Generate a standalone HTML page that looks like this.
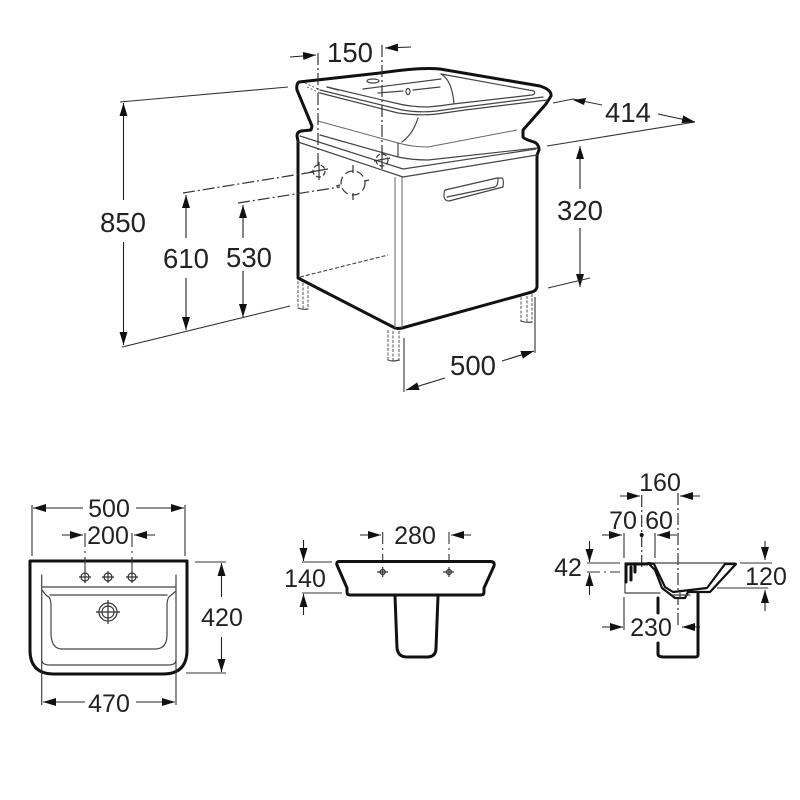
<!DOCTYPE html>
<html><head><meta charset="utf-8"><style>
html,body{margin:0;padding:0;background:#fff}
svg{display:block}
text{font-family:"Liberation Sans",sans-serif;font-size:25px;fill:#222;text-anchor:middle}
text.b{font-size:27.5px}
.k{fill:none;stroke:#111;stroke-width:3;stroke-linejoin:round;stroke-linecap:round}
.t{fill:none;stroke:#444;stroke-width:1.2;stroke-linejoin:round;stroke-linecap:round}
.g{fill:none;stroke:#666;stroke-width:1}
.d{fill:none;stroke:#333;stroke-width:1.1}
.a{stroke:#222;stroke-width:1.1;marker-end:url(#ah);fill:none}
.c{fill:none;stroke:#333;stroke-width:1.2;stroke-dasharray:12 3 2 3}
</style></head><body>
<svg width="800" height="800" viewBox="0 0 800 800" xmlns="http://www.w3.org/2000/svg">
<defs><marker id="ah" markerUnits="userSpaceOnUse" markerWidth="14" markerHeight="10" refX="13" refY="4" orient="auto"><path d="M0,0L13,4L0,8Z" fill="#111"/></marker></defs>

<!-- main unit outline -->
<path class="k" d="M299,82 L380,73 Q420,67 440,69 L540,86 Q552,90 551,96 L546,104 L523,130 L523,137 Q524,139 534,142 Q539,144 539,150 L537,155 L537,287 Q536,291 532,292 L402,328 Q398,329 395,328 L298,278 L298,141 L297,136 Q297,132 301,131 L311,130 L312,126 L297,90 Q296,84 299,82Z"/>
<!-- basin rim -->
<path class="t" d="M327,87 L338,90" stroke-width="2"/>
<path class="t" d="M441,74 L534,91 Q536,94 532,95 L453,104 Q440,106 428,107 Q410,107 395,103 L327,87"/>
<path class="t" d="M543,97 L465,107 L437,111 Q420,113 402,110 L320,90"/>
<path class="t" d="M547,100 L465,110 L437,114 Q420,116 398,113 L320,93"/>
<path class="g" d="M305,83 L320,90 M307,87 L320,93" stroke-dasharray="2 2"/>
<path class="t" d="M441,74 Q452,80 454,104"/>
<ellipse class="t" cx="373" cy="81" rx="6" ry="2"/>
<path class="t" d="M363,89 L441,79"/>
<path class="t" d="M378,93 L403,91 M413,90 L440,87"/>
<ellipse class="t" cx="408" cy="91.500" rx="2" ry="3"/>
<path class="t" d="M418,118 Q413,134 402,142"/>
<path class="g" d="M318,121 L398,143 Q412,147 428,147 L517,130"/>
<path class="t" d="M398,143 V157 M320,135 L398,157 Q412,160 428,160 L537,148"/>
<path class="t" d="M300,136 L403,169 L536,149"/>
<path class="t" d="M298,142 L403,177 L537,155"/>
<path class="g" d="M395,177V328 M402,177V328" stroke-width="1.2"/>
<path class="t" d="M445,190 L497,178 L502,178 Q504,179 503,187 L449,201 Q445,201 444,197 Q444,191 445,190Z"/>
<path class="t" d="M447,197 L495,187 Q498,186 498,178"/>
<path d="M300,277 L388,255" fill="none" stroke="#444" stroke-width="1.1" stroke-dasharray="4 2"/>

<!-- legs -->
<path d="M298,281V308 M303,283V309 M308,286V309 M388,330V360 M393,331V361 M399,331V361 M521,297V322 M527,296V322 M532,294V322" fill="none" stroke="#555" stroke-width="1" stroke-dasharray="3 1.500"/>
<path class="t" d="M298,308 Q303,310 308,309 M388,360 Q393,362 399,360 M521,321 Q526,323 532,322"/>

<!-- crosshair holes -->
<g fill="none" stroke="#333" stroke-width="1.2">
<circle cx="319" cy="171" r="6" stroke-dasharray="5 2.500"/><path d="M319,162v18M310,172l18,-3"/>
<circle cx="353" cy="183" r="12" stroke-dasharray="8 4"/><path d="M353,165v8M353,193v7M340,185l-4,1M365,181l4,-1"/>
<circle cx="382" cy="160" r="6" stroke-dasharray="5 2"/><path d="M382,152v17M374,161l16,-3"/>
</g>

<!-- top dimension 850 -->
<path class="d" d="M120,102 L288,87 M122,347 L290,306"/>
<path class="a" d="M123.500,200V103"/><path class="a" d="M123.500,242V345"/>
<text class="b" x="123" y="232">850</text>
<!-- 610 -->
<path class="c" d="M183,193 L313,172"/>
<path class="a" d="M186,238V195"/><path class="a" d="M186,278V330"/>
<text class="b" x="186" y="268">610</text>
<!-- 530 -->
<path class="c" d="M238,203 L340,187"/>
<path class="a" d="M243,238V205"/><path class="a" d="M243,271V317"/>
<text class="b" x="249" y="267">530</text>
<!-- 150 -->
<path class="c" d="M318,53V165 M382,45V155"/>
<path class="a" d="M290,57 L316,55"/><path class="a" d="M411,47 L385,48"/>
<text class="b" x="350" y="62">150</text>
<!-- 414 -->
<path class="d" d="M547,146 L695,122"/>
<path class="d" d="M553,103 L573,99 L602,105"/>
<path d="M573,100L586,98L584,105Z" fill="#111"/>
<path class="a" d="M658,114 L695,122"/>
<text class="b" x="628" y="122">414</text>
<!-- 320 -->
<path class="a" d="M580,189V146"/><path class="a" d="M580,228V287"/>
<path class="d" d="M548,288 L590,278"/>
<text class="b" x="580" y="220">320</text>
<!-- 500 top -->
<path class="d" d="M404,338V392 M535,297V353"/>
<path class="a" d="M445,378 L406,390"/><path class="a" d="M502,361 L534,351"/>
<text class="b" x="473" y="375">500</text>

<!-- PLAN VIEW -->
<path class="k" d="M30,561 H187 V650 Q187,674 163,674 H54 Q30,674 30,650Z"/>
<path class="t" d="M41.700,575V660 Q42,665 50,665 H168 Q176,665 176,660 V575"/>
<path class="t" d="M42,587H176 M50,595H167"/>
<path class="t" d="M42,590 Q46,596 49,597 Q51,600 51,606 V635 Q52,649 62,649 H155 Q167,649 167,635 V606 Q167,598 170,596 L176,591"/>
<g fill="none" stroke="#333" stroke-width="1.200">
<circle cx="85" cy="577" r="4"/><path d="M85,571v12M79,577h12"/>
<circle cx="108" cy="577" r="4"/><path d="M108,571v12M102,577h12"/>
<circle cx="132" cy="577" r="4"/><path d="M132,571v12M126,577h12"/>
<circle cx="108" cy="612" r="9"/><circle cx="108" cy="612" r="6"/><path d="M108,600v24M96,612h24"/>
</g>
<path class="d" d="M32,505V556 M185,505V556 M41.700,660V705 M176,660V705"/>
<path class="d" d="M85,533V547 M85,551V553 M85,557V572 M132,533V547 M132,551V553 M132,557V572"/>
<path class="a" d="M83,508H33"/><path class="a" d="M136,508H184"/>
<path class="a" d="M62,535H83"/><path class="a" d="M155,535H134"/>
<path class="d" d="M195,562H226 M186,673H226"/>
<path class="a" d="M221.500,597V563"/><path class="a" d="M221.500,637V672"/>
<path class="a" d="M85,702H43"/><path class="a" d="M136,702H175"/>
<text x="109" y="517">500</text>
<text x="108" y="544">200</text>
<text x="222" y="626">420</text>
<text x="109" y="712">470</text>

<!-- FRONT VIEW -->
<path class="k" d="M339,561.500 H491 Q495,562 494,566 L484,588 V592 Q484,595 481,595 H350 Q347,595 347,592 V588 L337,565 Q336,562 339,561.500Z"/>
<path class="k" d="M395,596 L397,648 Q398,657 407,657 H427 Q436,657 436,648 L438,596" stroke-width="2.400"/>
<g fill="none" stroke="#333" stroke-width="1.200">
<circle cx="382.700" cy="572" r="2.500"/><path d="M382.700,567v10M377,572h11"/>
<circle cx="449" cy="572" r="2.500"/><path d="M449,567v10M443,572h11"/>
</g>
<path class="d" d="M382.700,532V544 M382.700,548V550 M382.700,554V560 M449,532V544 M449,548V550 M449,554V560"/>
<path class="a" d="M360,535H381"/><path class="a" d="M471,535H451"/>
<path class="d" d="M302,562H332 M302,593H342"/>
<path class="a" d="M303.500,540V561"/><path class="a" d="M303.500,615V594"/>
<text x="415" y="544">280</text>
<text x="305" y="587">140</text>

<!-- SECTION VIEW -->
<path class="d" d="M587,563H620 M587,572H600 M604,572H606 M610,572H620"/>
<path class="a" d="M589.500,541V562"/><path class="a" d="M589.500,595V573"/>
<path class="d" d="M624,533V558 M624,597V630 M655,533V558"/>
<path class="c" d="M641.700,495V568 M678,493V628"/>
<circle cx="641.700" cy="535" r="2" fill="#111"/>
<path class="a" d="M620,496H640"/><path class="a" d="M700,496H680"/>
<path class="a" d="M602,535H622"/><path class="a" d="M677,535H657"/>
<path class="a" d="M602,627H623"/><path class="a" d="M700,627H682"/>
<path class="d" d="M740,563H772 M717,588H768"/>
<path class="a" d="M765,541V560"/><path class="a" d="M765,611V590"/>
<path class="t" d="M625,563H735 M625,580V593H660"/>
<path class="k" d="M626,564H647 M626,564V582 M631,567V580 M635,565V572" stroke-width="2.200"/>
<path d="M648,563 L654,564 L665,587 L673,592 L707,588 L725,564 L736,564 L710,592 L688,592 L685,598 L675,598 L662,588 L655,570Z" fill="#fff" stroke="#111" stroke-width="2.200" stroke-linejoin="round"/>
<path class="t" d="M680,592V598 M672,595H690"/>
<path class="k" d="M698,594V655 Q698,657 695,657 H664 Q658,657 658,654 V643" stroke-width="2.600"/>
<path class="k" d="M658,598V613" stroke-width="2.600"/>
<text x="660" y="491">160</text>
<text x="623" y="529">70</text>
<text x="659" y="529">60</text>
<text x="568" y="576">42</text>
<text x="766" y="585">120</text>
<text x="651" y="636">230</text>
</svg>
</body></html>
